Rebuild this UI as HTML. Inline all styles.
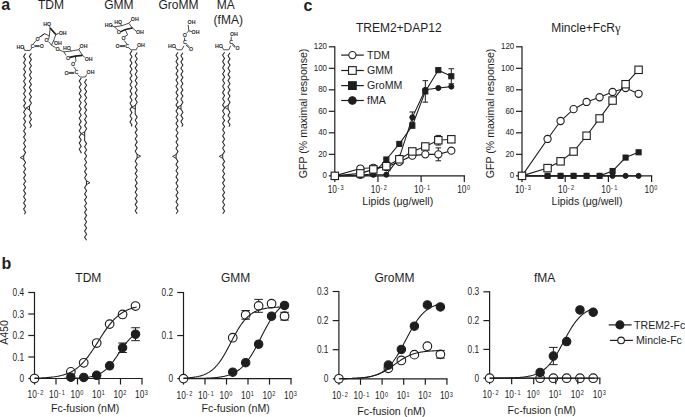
<!DOCTYPE html>
<html><head><meta charset="utf-8"><style>
html,body{margin:0;padding:0;background:#fff;overflow:hidden;}
svg{display:block;font-family:"Liberation Sans",sans-serif;}
text{fill:#1e1e1e;}
</style></head><body>
<svg width="685" height="417" viewBox="0 0 685 417">
<rect width="685" height="417" fill="#fff"/>
<text x="1.2" y="10.4" font-size="16" text-anchor="start" font-weight="bold" >a</text>
<text x="1.4" y="268.6" font-size="16" text-anchor="start" font-weight="bold" >b</text>
<text x="303.6" y="10.6" font-size="16" text-anchor="start" font-weight="bold" >c</text>
<line x1="334.8" y1="46.3" x2="334.8" y2="176.35" stroke="#1e1e1e" stroke-width="1.2"/>
<line x1="334.2" y1="175.85" x2="464.91" y2="175.85" stroke="#1e1e1e" stroke-width="1.2"/>
<line x1="328.8" y1="175.85" x2="334.8" y2="175.85" stroke="#1e1e1e" stroke-width="1.2"/>
<text transform="translate(327,178.45) scale(0.88,1)" font-size="9.0" text-anchor="end" font-weight="normal" >0</text>
<line x1="328.8" y1="154.34" x2="334.8" y2="154.34" stroke="#1e1e1e" stroke-width="1.2"/>
<text transform="translate(327,156.94) scale(0.88,1)" font-size="9.0" text-anchor="end" font-weight="normal" >20</text>
<line x1="328.8" y1="132.83" x2="334.8" y2="132.83" stroke="#1e1e1e" stroke-width="1.2"/>
<text transform="translate(327,135.43) scale(0.88,1)" font-size="9.0" text-anchor="end" font-weight="normal" >40</text>
<line x1="328.8" y1="111.32" x2="334.8" y2="111.32" stroke="#1e1e1e" stroke-width="1.2"/>
<text transform="translate(327,113.92) scale(0.88,1)" font-size="9.0" text-anchor="end" font-weight="normal" >60</text>
<line x1="328.8" y1="89.82" x2="334.8" y2="89.82" stroke="#1e1e1e" stroke-width="1.2"/>
<text transform="translate(327,92.42) scale(0.88,1)" font-size="9.0" text-anchor="end" font-weight="normal" >80</text>
<line x1="328.8" y1="68.31" x2="334.8" y2="68.31" stroke="#1e1e1e" stroke-width="1.2"/>
<text transform="translate(327,70.91) scale(0.88,1)" font-size="9.0" text-anchor="end" font-weight="normal" >100</text>
<line x1="328.8" y1="46.8" x2="334.8" y2="46.8" stroke="#1e1e1e" stroke-width="1.2"/>
<text transform="translate(327,49.4) scale(0.88,1)" font-size="9.0" text-anchor="end" font-weight="normal" >120</text>
<line x1="334.8" y1="175.85" x2="334.8" y2="181.95" stroke="#1e1e1e" stroke-width="1.2"/>
<text transform="translate(327.7,192.9) scale(0.81,1)" font-size="10.3">10<tspan font-size="6.9" dy="-2.9" dx="0.6">-</tspan><tspan font-size="6.9" dx="1.5">3</tspan></text>
<line x1="377.97" y1="175.85" x2="377.97" y2="181.95" stroke="#1e1e1e" stroke-width="1.2"/>
<text transform="translate(370.87,192.9) scale(0.81,1)" font-size="10.3">10<tspan font-size="6.9" dy="-2.9" dx="0.6">-</tspan><tspan font-size="6.9" dx="1.5">2</tspan></text>
<line x1="421.14" y1="175.85" x2="421.14" y2="181.95" stroke="#1e1e1e" stroke-width="1.2"/>
<text transform="translate(414.04,192.9) scale(0.81,1)" font-size="10.3">10<tspan font-size="6.9" dy="-2.9" dx="0.6">-</tspan><tspan font-size="6.9" dx="1.5">1</tspan></text>
<line x1="464.31" y1="175.85" x2="464.31" y2="181.95" stroke="#1e1e1e" stroke-width="1.2"/>
<text transform="translate(457.21,192.9) scale(0.81,1)" font-size="10.3">10<tspan font-size="6.9" dy="-2.9" dx="0.7">0</tspan></text>
<text x="355.9" y="32.2" font-size="12.0" text-anchor="start" font-weight="normal" >TREM2+DAP12</text>
<text x="397.8" y="204.6" font-size="10.6" text-anchor="middle" font-weight="normal" >Lipids (&#956;g/well)</text>
<text transform="translate(307,113.4) rotate(-90) scale(0.92,1)" font-size="11.5" text-anchor="middle">GFP (% maximal response)</text>
<path d="M334.8,175.85 L360.35,175.85 L373.34,174.77 L386.34,174.67 L399.33,157.57 L412.33,117.35 L425.32,89.82 L438.32,87.99 L451.31,86.59" stroke="#1e1e1e" stroke-width="1.1" fill="none" />
<line x1="412.33" y1="111.97" x2="412.33" y2="117.35" stroke="#1e1e1e" stroke-width="1.0"/>
<line x1="412.33" y1="117.35" x2="412.33" y2="122.72" stroke="#1e1e1e" stroke-width="1.0"/>
<line x1="409.53" y1="111.97" x2="415.13" y2="111.97" stroke="#1e1e1e" stroke-width="1.0"/>
<line x1="409.53" y1="122.72" x2="415.13" y2="122.72" stroke="#1e1e1e" stroke-width="1.0"/>
<circle cx="334.8" cy="175.85" r="2.55" fill="#1e1e1e" stroke="#1e1e1e" stroke-width="1.0"/>
<circle cx="360.35" cy="175.85" r="2.55" fill="#1e1e1e" stroke="#1e1e1e" stroke-width="1.0"/>
<circle cx="373.34" cy="174.77" r="2.55" fill="#1e1e1e" stroke="#1e1e1e" stroke-width="1.0"/>
<circle cx="386.34" cy="174.67" r="2.55" fill="#1e1e1e" stroke="#1e1e1e" stroke-width="1.0"/>
<circle cx="399.33" cy="157.57" r="2.55" fill="#1e1e1e" stroke="#1e1e1e" stroke-width="1.0"/>
<circle cx="412.33" cy="117.35" r="2.55" fill="#1e1e1e" stroke="#1e1e1e" stroke-width="1.0"/>
<circle cx="425.32" cy="89.82" r="2.55" fill="#1e1e1e" stroke="#1e1e1e" stroke-width="1.0"/>
<circle cx="438.32" cy="87.99" r="2.55" fill="#1e1e1e" stroke="#1e1e1e" stroke-width="1.0"/>
<circle cx="451.31" cy="86.59" r="2.55" fill="#1e1e1e" stroke="#1e1e1e" stroke-width="1.0"/>
<path d="M334.8,175.85 L360.35,175.31 L373.34,173.7 L386.34,159.5 L399.33,143.91 L412.33,125.74 L425.32,91.43 L438.32,70.14 L451.31,76.27" stroke="#1e1e1e" stroke-width="1.1" fill="none" />
<line x1="425.32" y1="80.68" x2="425.32" y2="91.43" stroke="#1e1e1e" stroke-width="1.0"/>
<line x1="425.32" y1="91.43" x2="425.32" y2="102.18" stroke="#1e1e1e" stroke-width="1.0"/>
<line x1="422.52" y1="80.68" x2="428.12" y2="80.68" stroke="#1e1e1e" stroke-width="1.0"/>
<line x1="422.52" y1="102.18" x2="428.12" y2="102.18" stroke="#1e1e1e" stroke-width="1.0"/>
<line x1="451.31" y1="68.74" x2="451.31" y2="76.27" stroke="#1e1e1e" stroke-width="1.0"/>
<line x1="451.31" y1="76.27" x2="451.31" y2="83.79" stroke="#1e1e1e" stroke-width="1.0"/>
<line x1="448.51" y1="68.74" x2="454.11" y2="68.74" stroke="#1e1e1e" stroke-width="1.0"/>
<line x1="448.51" y1="83.79" x2="454.11" y2="83.79" stroke="#1e1e1e" stroke-width="1.0"/>
<rect x="332.25" y="173.3" width="5.1" height="5.1" fill="#1e1e1e" stroke="#1e1e1e" stroke-width="1.0"/>
<rect x="357.8" y="172.76" width="5.1" height="5.1" fill="#1e1e1e" stroke="#1e1e1e" stroke-width="1.0"/>
<rect x="370.79" y="171.15" width="5.1" height="5.1" fill="#1e1e1e" stroke="#1e1e1e" stroke-width="1.0"/>
<rect x="383.79" y="156.95" width="5.1" height="5.1" fill="#1e1e1e" stroke="#1e1e1e" stroke-width="1.0"/>
<rect x="396.78" y="141.36" width="5.1" height="5.1" fill="#1e1e1e" stroke="#1e1e1e" stroke-width="1.0"/>
<rect x="409.78" y="123.19" width="5.1" height="5.1" fill="#1e1e1e" stroke="#1e1e1e" stroke-width="1.0"/>
<rect x="422.77" y="88.88" width="5.1" height="5.1" fill="#1e1e1e" stroke="#1e1e1e" stroke-width="1.0"/>
<rect x="435.77" y="67.59" width="5.1" height="5.1" fill="#1e1e1e" stroke="#1e1e1e" stroke-width="1.0"/>
<rect x="448.76" y="73.72" width="5.1" height="5.1" fill="#1e1e1e" stroke="#1e1e1e" stroke-width="1.0"/>
<path d="M334.8,175.85 L360.35,168.54 L373.34,167.78 L386.34,167.03 L399.33,161.87 L412.33,155.63 L425.32,154.34 L438.32,154.34 L451.31,150.69" stroke="#1e1e1e" stroke-width="1.1" fill="none" />
<line x1="438.32" y1="147.89" x2="438.32" y2="154.34" stroke="#1e1e1e" stroke-width="1.0"/>
<line x1="438.32" y1="154.34" x2="438.32" y2="160.79" stroke="#1e1e1e" stroke-width="1.0"/>
<line x1="435.52" y1="147.89" x2="441.12" y2="147.89" stroke="#1e1e1e" stroke-width="1.0"/>
<line x1="435.52" y1="160.79" x2="441.12" y2="160.79" stroke="#1e1e1e" stroke-width="1.0"/>
<circle cx="334.8" cy="175.85" r="3.6" fill="white" stroke="#1e1e1e" stroke-width="1.1"/>
<circle cx="360.35" cy="168.54" r="3.6" fill="white" stroke="#1e1e1e" stroke-width="1.1"/>
<circle cx="373.34" cy="167.78" r="3.6" fill="white" stroke="#1e1e1e" stroke-width="1.1"/>
<circle cx="386.34" cy="167.03" r="3.6" fill="white" stroke="#1e1e1e" stroke-width="1.1"/>
<circle cx="399.33" cy="161.87" r="3.6" fill="white" stroke="#1e1e1e" stroke-width="1.1"/>
<circle cx="412.33" cy="155.63" r="3.6" fill="white" stroke="#1e1e1e" stroke-width="1.1"/>
<circle cx="425.32" cy="154.34" r="3.6" fill="white" stroke="#1e1e1e" stroke-width="1.1"/>
<circle cx="438.32" cy="154.34" r="3.6" fill="white" stroke="#1e1e1e" stroke-width="1.1"/>
<circle cx="451.31" cy="150.69" r="3.6" fill="white" stroke="#1e1e1e" stroke-width="1.1"/>
<path d="M334.8,175.85 L360.35,173.38 L373.34,169.4 L386.34,166.17 L399.33,159.29 L412.33,151.44 L425.32,146.49 L438.32,140.25 L451.31,139.29" stroke="#1e1e1e" stroke-width="1.1" fill="none" />
<line x1="438.32" y1="135.41" x2="438.32" y2="140.25" stroke="#1e1e1e" stroke-width="1.0"/>
<line x1="438.32" y1="140.25" x2="438.32" y2="145.09" stroke="#1e1e1e" stroke-width="1.0"/>
<line x1="435.52" y1="135.41" x2="441.12" y2="135.41" stroke="#1e1e1e" stroke-width="1.0"/>
<line x1="435.52" y1="145.09" x2="441.12" y2="145.09" stroke="#1e1e1e" stroke-width="1.0"/>
<rect x="331.1" y="172.15" width="7.4" height="7.4" fill="white" stroke="#1e1e1e" stroke-width="1.1"/>
<rect x="356.65" y="169.68" width="7.4" height="7.4" fill="white" stroke="#1e1e1e" stroke-width="1.1"/>
<rect x="369.64" y="165.7" width="7.4" height="7.4" fill="white" stroke="#1e1e1e" stroke-width="1.1"/>
<rect x="382.64" y="162.47" width="7.4" height="7.4" fill="white" stroke="#1e1e1e" stroke-width="1.1"/>
<rect x="395.63" y="155.59" width="7.4" height="7.4" fill="white" stroke="#1e1e1e" stroke-width="1.1"/>
<rect x="408.63" y="147.74" width="7.4" height="7.4" fill="white" stroke="#1e1e1e" stroke-width="1.1"/>
<rect x="421.62" y="142.79" width="7.4" height="7.4" fill="white" stroke="#1e1e1e" stroke-width="1.1"/>
<rect x="434.62" y="136.55" width="7.4" height="7.4" fill="white" stroke="#1e1e1e" stroke-width="1.1"/>
<rect x="447.61" y="135.59" width="7.4" height="7.4" fill="white" stroke="#1e1e1e" stroke-width="1.1"/>
<line x1="341.2" y1="55.1" x2="363.8" y2="55.1" stroke="#1e1e1e" stroke-width="1.2"/>
<circle cx="352.4" cy="55.1" r="3.6" fill="white" stroke="#1e1e1e" stroke-width="1.1"/>
<text x="367" y="58.9" font-size="10.6" text-anchor="start" font-weight="normal" >TDM</text>
<line x1="341.2" y1="70.5" x2="363.8" y2="70.5" stroke="#1e1e1e" stroke-width="1.2"/>
<rect x="348.55" y="66.65" width="7.7" height="7.7" fill="white" stroke="#1e1e1e" stroke-width="1.1"/>
<text x="367" y="74.3" font-size="10.6" text-anchor="start" font-weight="normal" >GMM</text>
<line x1="341.2" y1="85.6" x2="363.8" y2="85.6" stroke="#1e1e1e" stroke-width="1.2"/>
<rect x="348.55" y="81.75" width="7.7" height="7.7" fill="#1e1e1e" stroke="#1e1e1e" stroke-width="1.1"/>
<text x="367" y="89.4" font-size="10.6" text-anchor="start" font-weight="normal" >GroMM</text>
<line x1="341.2" y1="100.5" x2="363.8" y2="100.5" stroke="#1e1e1e" stroke-width="1.2"/>
<circle cx="352.4" cy="100.5" r="3.8" fill="#1e1e1e" stroke="#1e1e1e" stroke-width="1.1"/>
<text x="367" y="104.3" font-size="10.6" text-anchor="start" font-weight="normal" >fMA</text>
<line x1="522" y1="46.3" x2="522" y2="176.35" stroke="#1e1e1e" stroke-width="1.2"/>
<line x1="521.4" y1="175.85" x2="652.2" y2="175.85" stroke="#1e1e1e" stroke-width="1.2"/>
<line x1="516" y1="175.85" x2="522" y2="175.85" stroke="#1e1e1e" stroke-width="1.2"/>
<text transform="translate(514.2,178.45) scale(0.88,1)" font-size="9.0" text-anchor="end" font-weight="normal" >0</text>
<line x1="516" y1="154.34" x2="522" y2="154.34" stroke="#1e1e1e" stroke-width="1.2"/>
<text transform="translate(514.2,156.94) scale(0.88,1)" font-size="9.0" text-anchor="end" font-weight="normal" >20</text>
<line x1="516" y1="132.83" x2="522" y2="132.83" stroke="#1e1e1e" stroke-width="1.2"/>
<text transform="translate(514.2,135.43) scale(0.88,1)" font-size="9.0" text-anchor="end" font-weight="normal" >40</text>
<line x1="516" y1="111.32" x2="522" y2="111.32" stroke="#1e1e1e" stroke-width="1.2"/>
<text transform="translate(514.2,113.92) scale(0.88,1)" font-size="9.0" text-anchor="end" font-weight="normal" >60</text>
<line x1="516" y1="89.82" x2="522" y2="89.82" stroke="#1e1e1e" stroke-width="1.2"/>
<text transform="translate(514.2,92.42) scale(0.88,1)" font-size="9.0" text-anchor="end" font-weight="normal" >80</text>
<line x1="516" y1="68.31" x2="522" y2="68.31" stroke="#1e1e1e" stroke-width="1.2"/>
<text transform="translate(514.2,70.91) scale(0.88,1)" font-size="9.0" text-anchor="end" font-weight="normal" >100</text>
<line x1="516" y1="46.8" x2="522" y2="46.8" stroke="#1e1e1e" stroke-width="1.2"/>
<text transform="translate(514.2,49.4) scale(0.88,1)" font-size="9.0" text-anchor="end" font-weight="normal" >120</text>
<line x1="522" y1="175.85" x2="522" y2="181.95" stroke="#1e1e1e" stroke-width="1.2"/>
<text transform="translate(514.9,192.9) scale(0.81,1)" font-size="10.3">10<tspan font-size="6.9" dy="-2.9" dx="0.6">-</tspan><tspan font-size="6.9" dx="1.5">3</tspan></text>
<line x1="565.2" y1="175.85" x2="565.2" y2="181.95" stroke="#1e1e1e" stroke-width="1.2"/>
<text transform="translate(558.1,192.9) scale(0.81,1)" font-size="10.3">10<tspan font-size="6.9" dy="-2.9" dx="0.6">-</tspan><tspan font-size="6.9" dx="1.5">2</tspan></text>
<line x1="608.4" y1="175.85" x2="608.4" y2="181.95" stroke="#1e1e1e" stroke-width="1.2"/>
<text transform="translate(601.3,192.9) scale(0.81,1)" font-size="10.3">10<tspan font-size="6.9" dy="-2.9" dx="0.6">-</tspan><tspan font-size="6.9" dx="1.5">1</tspan></text>
<line x1="651.6" y1="175.85" x2="651.6" y2="181.95" stroke="#1e1e1e" stroke-width="1.2"/>
<text transform="translate(644.5,192.9) scale(0.81,1)" font-size="10.3">10<tspan font-size="6.9" dy="-2.9" dx="0.7">0</tspan></text>
<text x="551.2" y="32.2" font-size="12.0" text-anchor="start" font-weight="normal" >Mincle+FcR<tspan font-family="Liberation Serif" font-size="12.5">&#947;</tspan></text>
<text x="587" y="204.6" font-size="10.6" text-anchor="middle" font-weight="normal" >Lipids (&#956;g/well)</text>
<text transform="translate(494.3,113.4) rotate(-90) scale(0.92,1)" font-size="11.5" text-anchor="middle">GFP (% maximal response)</text>
<path d="M522,175.85 L547.56,175.85 L560.57,175.85 L573.57,175.85 L586.58,175.85 L599.58,175.85 L612.59,175.85 L625.59,175.85 L638.6,175.85" stroke="#1e1e1e" stroke-width="1.1" fill="none" />
<circle cx="522" cy="175.85" r="2.55" fill="#1e1e1e" stroke="#1e1e1e" stroke-width="1.0"/>
<circle cx="547.56" cy="175.85" r="2.55" fill="#1e1e1e" stroke="#1e1e1e" stroke-width="1.0"/>
<circle cx="560.57" cy="175.85" r="2.55" fill="#1e1e1e" stroke="#1e1e1e" stroke-width="1.0"/>
<circle cx="573.57" cy="175.85" r="2.55" fill="#1e1e1e" stroke="#1e1e1e" stroke-width="1.0"/>
<circle cx="586.58" cy="175.85" r="2.55" fill="#1e1e1e" stroke="#1e1e1e" stroke-width="1.0"/>
<circle cx="599.58" cy="175.85" r="2.55" fill="#1e1e1e" stroke="#1e1e1e" stroke-width="1.0"/>
<circle cx="612.59" cy="175.85" r="2.55" fill="#1e1e1e" stroke="#1e1e1e" stroke-width="1.0"/>
<circle cx="625.59" cy="175.85" r="2.55" fill="#1e1e1e" stroke="#1e1e1e" stroke-width="1.0"/>
<circle cx="638.6" cy="175.85" r="2.55" fill="#1e1e1e" stroke="#1e1e1e" stroke-width="1.0"/>
<path d="M522,175.85 L547.56,175.85 L560.57,175.85 L573.57,175.85 L586.58,175.85 L599.58,175.85 L612.59,171.01 L625.59,157.57 L638.6,152.3" stroke="#1e1e1e" stroke-width="1.1" fill="none" />
<rect x="519.45" y="173.3" width="5.1" height="5.1" fill="#1e1e1e" stroke="#1e1e1e" stroke-width="1.0"/>
<rect x="545.01" y="173.3" width="5.1" height="5.1" fill="#1e1e1e" stroke="#1e1e1e" stroke-width="1.0"/>
<rect x="558.02" y="173.3" width="5.1" height="5.1" fill="#1e1e1e" stroke="#1e1e1e" stroke-width="1.0"/>
<rect x="571.02" y="173.3" width="5.1" height="5.1" fill="#1e1e1e" stroke="#1e1e1e" stroke-width="1.0"/>
<rect x="584.03" y="173.3" width="5.1" height="5.1" fill="#1e1e1e" stroke="#1e1e1e" stroke-width="1.0"/>
<rect x="597.03" y="173.3" width="5.1" height="5.1" fill="#1e1e1e" stroke="#1e1e1e" stroke-width="1.0"/>
<rect x="610.04" y="168.46" width="5.1" height="5.1" fill="#1e1e1e" stroke="#1e1e1e" stroke-width="1.0"/>
<rect x="623.04" y="155.02" width="5.1" height="5.1" fill="#1e1e1e" stroke="#1e1e1e" stroke-width="1.0"/>
<rect x="636.05" y="149.75" width="5.1" height="5.1" fill="#1e1e1e" stroke="#1e1e1e" stroke-width="1.0"/>
<path d="M522,175.85 L547.56,138.96 L560.57,121 L573.57,109.17 L586.58,101.97 L599.58,97.24 L612.59,91.97 L625.59,87.99 L638.6,93.8" stroke="#1e1e1e" stroke-width="1.1" fill="none" />
<circle cx="522" cy="175.85" r="3.6" fill="white" stroke="#1e1e1e" stroke-width="1.1"/>
<circle cx="547.56" cy="138.96" r="3.6" fill="white" stroke="#1e1e1e" stroke-width="1.1"/>
<circle cx="560.57" cy="121" r="3.6" fill="white" stroke="#1e1e1e" stroke-width="1.1"/>
<circle cx="573.57" cy="109.17" r="3.6" fill="white" stroke="#1e1e1e" stroke-width="1.1"/>
<circle cx="586.58" cy="101.97" r="3.6" fill="white" stroke="#1e1e1e" stroke-width="1.1"/>
<circle cx="599.58" cy="97.24" r="3.6" fill="white" stroke="#1e1e1e" stroke-width="1.1"/>
<circle cx="612.59" cy="91.97" r="3.6" fill="white" stroke="#1e1e1e" stroke-width="1.1"/>
<circle cx="625.59" cy="87.99" r="3.6" fill="white" stroke="#1e1e1e" stroke-width="1.1"/>
<circle cx="638.6" cy="93.8" r="3.6" fill="white" stroke="#1e1e1e" stroke-width="1.1"/>
<path d="M522,175.85 L547.56,168.11 L560.57,161.33 L573.57,151.55 L586.58,135.74 L599.58,118.42 L612.59,100.57 L625.59,84.22 L638.6,69.81" stroke="#1e1e1e" stroke-width="1.1" fill="none" />
<rect x="518.3" y="172.15" width="7.4" height="7.4" fill="white" stroke="#1e1e1e" stroke-width="1.1"/>
<rect x="543.86" y="164.41" width="7.4" height="7.4" fill="white" stroke="#1e1e1e" stroke-width="1.1"/>
<rect x="556.87" y="157.63" width="7.4" height="7.4" fill="white" stroke="#1e1e1e" stroke-width="1.1"/>
<rect x="569.87" y="147.85" width="7.4" height="7.4" fill="white" stroke="#1e1e1e" stroke-width="1.1"/>
<rect x="582.88" y="132.04" width="7.4" height="7.4" fill="white" stroke="#1e1e1e" stroke-width="1.1"/>
<rect x="595.88" y="114.72" width="7.4" height="7.4" fill="white" stroke="#1e1e1e" stroke-width="1.1"/>
<rect x="608.89" y="96.87" width="7.4" height="7.4" fill="white" stroke="#1e1e1e" stroke-width="1.1"/>
<rect x="621.89" y="80.52" width="7.4" height="7.4" fill="white" stroke="#1e1e1e" stroke-width="1.1"/>
<rect x="634.9" y="66.11" width="7.4" height="7.4" fill="white" stroke="#1e1e1e" stroke-width="1.1"/>
<line x1="34.5" y1="292" x2="34.5" y2="379" stroke="#1e1e1e" stroke-width="1.2"/>
<line x1="33.9" y1="378.5" x2="142.6" y2="378.5" stroke="#1e1e1e" stroke-width="1.2"/>
<line x1="28.3" y1="378.5" x2="34.5" y2="378.5" stroke="#1e1e1e" stroke-width="1.2"/>
<text transform="translate(24.1,382) scale(0.81,1)" font-size="10.3" text-anchor="end" font-weight="normal" >0</text>
<line x1="28.3" y1="357" x2="34.5" y2="357" stroke="#1e1e1e" stroke-width="1.2"/>
<text transform="translate(24.1,360.5) scale(0.81,1)" font-size="10.3" text-anchor="end" font-weight="normal" >0.1</text>
<line x1="28.3" y1="335.5" x2="34.5" y2="335.5" stroke="#1e1e1e" stroke-width="1.2"/>
<text transform="translate(24.1,339) scale(0.81,1)" font-size="10.3" text-anchor="end" font-weight="normal" >0.2</text>
<line x1="28.3" y1="314" x2="34.5" y2="314" stroke="#1e1e1e" stroke-width="1.2"/>
<text transform="translate(24.1,317.5) scale(0.81,1)" font-size="10.3" text-anchor="end" font-weight="normal" >0.3</text>
<line x1="28.3" y1="292.5" x2="34.5" y2="292.5" stroke="#1e1e1e" stroke-width="1.2"/>
<text transform="translate(24.1,296) scale(0.81,1)" font-size="10.3" text-anchor="end" font-weight="normal" >0.4</text>
<line x1="34.5" y1="378.5" x2="34.5" y2="384.5" stroke="#1e1e1e" stroke-width="1.2"/>
<text transform="translate(27.5,398.2) scale(0.81,1)" font-size="10.3">10<tspan font-size="6.9" dy="-2.9" dx="0.6">-</tspan><tspan font-size="6.9" dx="1.5">2</tspan></text>
<line x1="56" y1="378.5" x2="56" y2="384.5" stroke="#1e1e1e" stroke-width="1.2"/>
<text transform="translate(49,398.2) scale(0.81,1)" font-size="10.3">10<tspan font-size="6.9" dy="-2.9" dx="0.6">-</tspan><tspan font-size="6.9" dx="1.5">1</tspan></text>
<line x1="77.5" y1="378.5" x2="77.5" y2="384.5" stroke="#1e1e1e" stroke-width="1.2"/>
<text transform="translate(70.5,398.2) scale(0.81,1)" font-size="10.3">10<tspan font-size="6.9" dy="-2.9" dx="0.7">0</tspan></text>
<line x1="99" y1="378.5" x2="99" y2="384.5" stroke="#1e1e1e" stroke-width="1.2"/>
<text transform="translate(92,398.2) scale(0.81,1)" font-size="10.3">10<tspan font-size="6.9" dy="-2.9" dx="0.7">1</tspan></text>
<line x1="120.5" y1="378.5" x2="120.5" y2="384.5" stroke="#1e1e1e" stroke-width="1.2"/>
<text transform="translate(113.5,398.2) scale(0.81,1)" font-size="10.3">10<tspan font-size="6.9" dy="-2.9" dx="0.7">2</tspan></text>
<line x1="142" y1="378.5" x2="142" y2="384.5" stroke="#1e1e1e" stroke-width="1.2"/>
<text transform="translate(135,398.2) scale(0.81,1)" font-size="10.3">10<tspan font-size="6.9" dy="-2.9" dx="0.7">3</tspan></text>
<text x="75.3" y="281.8" font-size="12.0" text-anchor="start" font-weight="normal" >TDM</text>
<text x="85.2" y="411.9" font-size="10.6" text-anchor="middle" font-weight="normal" >Fc-fusion (nM)</text>
<circle cx="34.5" cy="378.5" r="4.3" fill="white" stroke="#1e1e1e" stroke-width="1.15"/>
<path d="M34.5,378.5 L35.36,378.5 L36.22,378.5 L37.07,378.5 L37.93,378.5 L38.79,378.5 L39.65,378.5 L40.51,378.5 L41.37,378.49 L42.22,378.49 L43.08,378.49 L43.94,378.49 L44.8,378.49 L45.66,378.49 L46.51,378.49 L47.37,378.49 L48.23,378.49 L49.09,378.49 L49.95,378.49 L50.81,378.48 L51.66,378.48 L52.52,378.48 L53.38,378.48 L54.24,378.48 L55.1,378.47 L55.95,378.47 L56.81,378.47 L57.67,378.46 L58.53,378.46 L59.39,378.45 L60.25,378.45 L61.1,378.44 L61.96,378.44 L62.82,378.43 L63.68,378.43 L64.54,378.42 L65.39,378.41 L66.25,378.4 L67.11,378.39 L67.97,378.38 L68.83,378.36 L69.69,378.35 L70.54,378.33 L71.4,378.31 L72.26,378.29 L73.12,378.27 L73.98,378.25 L74.84,378.22 L75.69,378.19 L76.55,378.16 L77.41,378.12 L78.27,378.08 L79.13,378.04 L79.98,377.99 L80.84,377.94 L81.7,377.88 L82.56,377.81 L83.42,377.74 L84.28,377.66 L85.13,377.57 L85.99,377.48 L86.85,377.37 L87.71,377.25 L88.57,377.13 L89.42,376.98 L90.28,376.83 L91.14,376.66 L92,376.47 L92.86,376.26 L93.72,376.03 L94.57,375.78 L95.43,375.51 L96.29,375.21 L97.15,374.89 L98.01,374.53 L98.86,374.15 L99.72,373.73 L100.58,373.27 L101.44,372.78 L102.3,372.24 L103.16,371.67 L104.01,371.05 L104.87,370.38 L105.73,369.67 L106.59,368.9 L107.45,368.09 L108.3,367.23 L109.16,366.32 L110.02,365.36 L110.88,364.35 L111.74,363.29 L112.6,362.2 L113.45,361.06 L114.31,359.89 L115.17,358.68 L116.03,357.45 L116.89,356.19 L117.74,354.93 L118.6,353.65 L119.46,352.37 L120.32,351.1 L121.18,349.83 L122.04,348.59 L122.89,347.36 L123.75,346.17 L124.61,345.01 L125.47,343.88 L126.33,342.8 L127.18,341.76 L128.04,340.77 L128.9,339.83 L129.76,338.94 L130.62,338.09 L131.48,337.3 L132.33,336.55 L133.19,335.85 L134.05,335.2 L134.91,334.6 L135.77,334.04 L136.62,333.52" stroke="#1e1e1e" stroke-width="1.1" fill="none" />
<path d="M34.5,378.19 L35.36,378.16 L36.22,378.14 L37.07,378.11 L37.93,378.08 L38.79,378.05 L39.65,378.01 L40.51,377.98 L41.37,377.94 L42.22,377.89 L43.08,377.85 L43.94,377.8 L44.8,377.75 L45.66,377.69 L46.51,377.63 L47.37,377.56 L48.23,377.49 L49.09,377.42 L49.95,377.34 L50.81,377.25 L51.66,377.15 L52.52,377.05 L53.38,376.94 L54.24,376.83 L55.1,376.7 L55.95,376.57 L56.81,376.43 L57.67,376.27 L58.53,376.11 L59.39,375.93 L60.25,375.74 L61.1,375.54 L61.96,375.33 L62.82,375.09 L63.68,374.85 L64.54,374.58 L65.39,374.3 L66.25,374 L67.11,373.68 L67.97,373.33 L68.83,372.97 L69.69,372.58 L70.54,372.17 L71.4,371.73 L72.26,371.26 L73.12,370.77 L73.98,370.24 L74.84,369.69 L75.69,369.1 L76.55,368.48 L77.41,367.82 L78.27,367.13 L79.13,366.4 L79.98,365.64 L80.84,364.84 L81.7,364 L82.56,363.12 L83.42,362.21 L84.28,361.25 L85.13,360.26 L85.99,359.23 L86.85,358.16 L87.71,357.05 L88.57,355.91 L89.42,354.74 L90.28,353.54 L91.14,352.31 L92,351.05 L92.86,349.76 L93.72,348.46 L94.57,347.13 L95.43,345.8 L96.29,344.44 L97.15,343.09 L98.01,341.72 L98.86,340.36 L99.72,339 L100.58,337.65 L101.44,336.3 L102.3,334.97 L103.16,333.66 L104.01,332.36 L104.87,331.09 L105.73,329.85 L106.59,328.63 L107.45,327.45 L108.3,326.3 L109.16,325.18 L110.02,324.09 L110.88,323.05 L111.74,322.04 L112.6,321.07 L113.45,320.14 L114.31,319.24 L115.17,318.39 L116.03,317.57 L116.89,316.79 L117.74,316.05 L118.6,315.34 L119.46,314.67 L120.32,314.04 L121.18,313.44 L122.04,312.87 L122.89,312.33 L123.75,311.82 L124.61,311.34 L125.47,310.89 L126.33,310.47 L127.18,310.07 L128.04,309.7 L128.9,309.34 L129.76,309.01 L130.62,308.7 L131.48,308.41 L132.33,308.14 L133.19,307.89 L134.05,307.65 L134.91,307.43 L135.77,307.22 L136.62,307.03" stroke="#1e1e1e" stroke-width="1.1" fill="none" />
<line x1="122.58" y1="343.02" x2="122.58" y2="347.75" stroke="#1e1e1e" stroke-width="1.0"/>
<line x1="122.58" y1="347.75" x2="122.58" y2="352.49" stroke="#1e1e1e" stroke-width="1.0"/>
<line x1="118.28" y1="343.02" x2="126.88" y2="343.02" stroke="#1e1e1e" stroke-width="1.0"/>
<line x1="118.28" y1="352.49" x2="126.88" y2="352.49" stroke="#1e1e1e" stroke-width="1.0"/>
<line x1="135.53" y1="327.76" x2="135.53" y2="334.21" stroke="#1e1e1e" stroke-width="1.0"/>
<line x1="135.53" y1="334.21" x2="135.53" y2="340.66" stroke="#1e1e1e" stroke-width="1.0"/>
<line x1="131.23" y1="327.76" x2="139.83" y2="327.76" stroke="#1e1e1e" stroke-width="1.0"/>
<line x1="131.23" y1="340.66" x2="139.83" y2="340.66" stroke="#1e1e1e" stroke-width="1.0"/>
<circle cx="70.84" cy="377.21" r="4.2" fill="#1e1e1e" stroke="#1e1e1e" stroke-width="1.1"/>
<circle cx="83.74" cy="377.43" r="4.2" fill="#1e1e1e" stroke="#1e1e1e" stroke-width="1.1"/>
<circle cx="96.68" cy="375.27" r="4.2" fill="#1e1e1e" stroke="#1e1e1e" stroke-width="1.1"/>
<circle cx="109.64" cy="365.81" r="4.2" fill="#1e1e1e" stroke="#1e1e1e" stroke-width="1.1"/>
<circle cx="122.58" cy="347.75" r="4.2" fill="#1e1e1e" stroke="#1e1e1e" stroke-width="1.1"/>
<circle cx="135.53" cy="334.21" r="4.2" fill="#1e1e1e" stroke="#1e1e1e" stroke-width="1.1"/>
<circle cx="70.84" cy="371.83" r="4.3" fill="none" stroke="#1e1e1e" stroke-width="1.15"/>
<circle cx="83.74" cy="362.81" r="4.3" fill="none" stroke="#1e1e1e" stroke-width="1.15"/>
<circle cx="96.68" cy="343.02" r="4.3" fill="none" stroke="#1e1e1e" stroke-width="1.15"/>
<circle cx="109.64" cy="324.11" r="4.3" fill="none" stroke="#1e1e1e" stroke-width="1.15"/>
<circle cx="122.58" cy="314.43" r="4.3" fill="none" stroke="#1e1e1e" stroke-width="1.15"/>
<circle cx="135.53" cy="306.05" r="4.3" fill="none" stroke="#1e1e1e" stroke-width="1.15"/>
<text transform="translate(8.4,332.5) rotate(-90) scale(0.92,1)" font-size="11.5" text-anchor="middle">A450</text>
<line x1="183.5" y1="292" x2="183.5" y2="379.1" stroke="#1e1e1e" stroke-width="1.2"/>
<line x1="182.9" y1="378.6" x2="291.6" y2="378.6" stroke="#1e1e1e" stroke-width="1.2"/>
<line x1="177.3" y1="378.6" x2="183.5" y2="378.6" stroke="#1e1e1e" stroke-width="1.2"/>
<text transform="translate(173.1,382.1) scale(0.81,1)" font-size="10.3" text-anchor="end" font-weight="normal" >0</text>
<line x1="177.3" y1="335.55" x2="183.5" y2="335.55" stroke="#1e1e1e" stroke-width="1.2"/>
<text transform="translate(173.1,339.05) scale(0.81,1)" font-size="10.3" text-anchor="end" font-weight="normal" >0.1</text>
<line x1="177.3" y1="292.5" x2="183.5" y2="292.5" stroke="#1e1e1e" stroke-width="1.2"/>
<text transform="translate(173.1,296) scale(0.81,1)" font-size="10.3" text-anchor="end" font-weight="normal" >0.2</text>
<line x1="183.5" y1="378.6" x2="183.5" y2="384.6" stroke="#1e1e1e" stroke-width="1.2"/>
<text transform="translate(176.5,399.2) scale(0.81,1)" font-size="10.3">10<tspan font-size="6.9" dy="-2.9" dx="0.6">-</tspan><tspan font-size="6.9" dx="1.5">2</tspan></text>
<line x1="205" y1="378.6" x2="205" y2="384.6" stroke="#1e1e1e" stroke-width="1.2"/>
<text transform="translate(198,399.2) scale(0.81,1)" font-size="10.3">10<tspan font-size="6.9" dy="-2.9" dx="0.6">-</tspan><tspan font-size="6.9" dx="1.5">1</tspan></text>
<line x1="226.5" y1="378.6" x2="226.5" y2="384.6" stroke="#1e1e1e" stroke-width="1.2"/>
<text transform="translate(219.5,399.2) scale(0.81,1)" font-size="10.3">10<tspan font-size="6.9" dy="-2.9" dx="0.7">0</tspan></text>
<line x1="248" y1="378.6" x2="248" y2="384.6" stroke="#1e1e1e" stroke-width="1.2"/>
<text transform="translate(241,399.2) scale(0.81,1)" font-size="10.3">10<tspan font-size="6.9" dy="-2.9" dx="0.7">1</tspan></text>
<line x1="269.5" y1="378.6" x2="269.5" y2="384.6" stroke="#1e1e1e" stroke-width="1.2"/>
<text transform="translate(262.5,399.2) scale(0.81,1)" font-size="10.3">10<tspan font-size="6.9" dy="-2.9" dx="0.7">2</tspan></text>
<line x1="291" y1="378.6" x2="291" y2="384.6" stroke="#1e1e1e" stroke-width="1.2"/>
<text transform="translate(284,399.2) scale(0.81,1)" font-size="10.3">10<tspan font-size="6.9" dy="-2.9" dx="0.7">3</tspan></text>
<text x="220.9" y="281.8" font-size="12.0" text-anchor="start" font-weight="normal" >GMM</text>
<text x="235.7" y="411.9" font-size="10.6" text-anchor="middle" font-weight="normal" >Fc-fusion (nM)</text>
<circle cx="183.5" cy="378.6" r="4.3" fill="white" stroke="#1e1e1e" stroke-width="1.15"/>
<path d="M183.5,378.55 L184.36,378.55 L185.22,378.55 L186.07,378.54 L186.93,378.54 L187.79,378.53 L188.65,378.52 L189.51,378.52 L190.37,378.51 L191.22,378.5 L192.08,378.49 L192.94,378.48 L193.8,378.47 L194.66,378.46 L195.51,378.45 L196.37,378.44 L197.23,378.43 L198.09,378.41 L198.95,378.39 L199.81,378.38 L200.66,378.36 L201.52,378.34 L202.38,378.31 L203.24,378.29 L204.1,378.26 L204.95,378.23 L205.81,378.2 L206.67,378.17 L207.53,378.13 L208.39,378.09 L209.25,378.05 L210.1,378 L210.96,377.95 L211.82,377.89 L212.68,377.83 L213.54,377.76 L214.39,377.69 L215.25,377.61 L216.11,377.53 L216.97,377.44 L217.83,377.34 L218.69,377.23 L219.54,377.12 L220.4,376.99 L221.26,376.85 L222.12,376.71 L222.98,376.55 L223.84,376.38 L224.69,376.19 L225.55,375.99 L226.41,375.77 L227.27,375.53 L228.13,375.28 L228.98,375.01 L229.84,374.71 L230.7,374.39 L231.56,374.05 L232.42,373.68 L233.28,373.28 L234.13,372.85 L234.99,372.39 L235.85,371.9 L236.71,371.37 L237.57,370.81 L238.42,370.2 L239.28,369.56 L240.14,368.87 L241,368.14 L241.86,367.36 L242.72,366.53 L243.57,365.65 L244.43,364.72 L245.29,363.74 L246.15,362.7 L247.01,361.62 L247.86,360.47 L248.72,359.28 L249.58,358.03 L250.44,356.73 L251.3,355.37 L252.16,353.97 L253.01,352.52 L253.87,351.03 L254.73,349.5 L255.59,347.93 L256.45,346.32 L257.3,344.69 L258.16,343.04 L259.02,341.37 L259.88,339.68 L260.74,337.99 L261.6,336.3 L262.45,334.61 L263.31,332.94 L264.17,331.28 L265.03,329.64 L265.89,328.03 L266.74,326.45 L267.6,324.9 L268.46,323.4 L269.32,321.94 L270.18,320.52 L271.04,319.16 L271.89,317.84 L272.75,316.58 L273.61,315.37 L274.47,314.21 L275.33,313.11 L276.18,312.06 L277.04,311.07 L277.9,310.13 L278.76,309.24 L279.62,308.39 L280.48,307.6 L281.33,306.86 L282.19,306.16 L283.05,305.5 L283.91,304.89 L284.77,304.31 L285.62,303.77" stroke="#1e1e1e" stroke-width="1.1" fill="none" />
<path d="M183.5,378.15 L184.36,378.11 L185.22,378.06 L186.07,378.01 L186.93,377.95 L187.79,377.89 L188.65,377.82 L189.51,377.75 L190.37,377.67 L191.22,377.58 L192.08,377.48 L192.94,377.37 L193.8,377.26 L194.66,377.13 L195.51,376.99 L196.37,376.84 L197.23,376.68 L198.09,376.5 L198.95,376.3 L199.81,376.09 L200.66,375.86 L201.52,375.6 L202.38,375.33 L203.24,375.03 L204.1,374.71 L204.95,374.35 L205.81,373.97 L206.67,373.56 L207.53,373.11 L208.39,372.62 L209.25,372.1 L210.1,371.53 L210.96,370.93 L211.82,370.27 L212.68,369.57 L213.54,368.82 L214.39,368.02 L215.25,367.16 L216.11,366.25 L216.97,365.28 L217.83,364.26 L218.69,363.17 L219.54,362.03 L220.4,360.83 L221.26,359.57 L222.12,358.26 L222.98,356.89 L223.84,355.47 L224.69,354.01 L225.55,352.5 L226.41,350.95 L227.27,349.37 L228.13,347.77 L228.98,346.14 L229.84,344.49 L230.7,342.84 L231.56,341.19 L232.42,339.55 L233.28,337.92 L234.13,336.3 L234.99,334.72 L235.85,333.16 L236.71,331.65 L237.57,330.17 L238.42,328.74 L239.28,327.36 L240.14,326.04 L241,324.77 L241.86,323.55 L242.72,322.39 L243.57,321.3 L244.43,320.26 L245.29,319.28 L246.15,318.35 L247.01,317.48 L247.86,316.67 L248.72,315.9 L249.58,315.19 L250.44,314.53 L251.3,313.91 L252.16,313.33 L253.01,312.8 L253.87,312.31 L254.73,311.85 L255.59,311.43 L256.45,311.04 L257.3,310.68 L258.16,310.35 L259.02,310.04 L259.88,309.76 L260.74,309.51 L261.6,309.27 L262.45,309.05 L263.31,308.85 L264.17,308.67 L265.03,308.5 L265.89,308.35 L266.74,308.21 L267.6,308.08 L268.46,307.96 L269.32,307.85 L270.18,307.75 L271.04,307.66 L271.89,307.58 L272.75,307.5 L273.61,307.43 L274.47,307.37 L275.33,307.31 L276.18,307.26 L277.04,307.21 L277.9,307.17 L278.76,307.13 L279.62,307.09 L280.48,307.06 L281.33,307.03 L282.19,307 L283.05,306.97 L283.91,306.95 L284.77,306.93 L285.62,306.91" stroke="#1e1e1e" stroke-width="1.1" fill="none" />
<line x1="245.68" y1="310.58" x2="245.68" y2="310.59" stroke="#1e1e1e" stroke-width="1.0"/>
<line x1="245.68" y1="319.19" x2="245.68" y2="319.19" stroke="#1e1e1e" stroke-width="1.0"/>
<line x1="241.38" y1="310.58" x2="249.98" y2="310.58" stroke="#1e1e1e" stroke-width="1.0"/>
<line x1="241.38" y1="319.19" x2="249.98" y2="319.19" stroke="#1e1e1e" stroke-width="1.0"/>
<line x1="258.64" y1="299.39" x2="258.64" y2="301.55" stroke="#1e1e1e" stroke-width="1.0"/>
<line x1="258.64" y1="310.15" x2="258.64" y2="312.3" stroke="#1e1e1e" stroke-width="1.0"/>
<line x1="254.34" y1="299.39" x2="262.94" y2="299.39" stroke="#1e1e1e" stroke-width="1.0"/>
<line x1="254.34" y1="312.3" x2="262.94" y2="312.3" stroke="#1e1e1e" stroke-width="1.0"/>
<line x1="280.23" y1="312.3" x2="288.83" y2="312.3" stroke="#1e1e1e" stroke-width="1.0"/>
<line x1="280.23" y1="320.05" x2="288.83" y2="320.05" stroke="#1e1e1e" stroke-width="1.0"/>
<circle cx="232.74" cy="372.14" r="4.2" fill="#1e1e1e" stroke="#1e1e1e" stroke-width="1.1"/>
<circle cx="245.68" cy="362.67" r="4.2" fill="#1e1e1e" stroke="#1e1e1e" stroke-width="1.1"/>
<circle cx="258.64" cy="344.16" r="4.2" fill="#1e1e1e" stroke="#1e1e1e" stroke-width="1.1"/>
<circle cx="271.58" cy="316.18" r="4.2" fill="#1e1e1e" stroke="#1e1e1e" stroke-width="1.1"/>
<circle cx="284.53" cy="305.42" r="4.2" fill="#1e1e1e" stroke="#1e1e1e" stroke-width="1.1"/>
<circle cx="232.74" cy="337.7" r="4.3" fill="none" stroke="#1e1e1e" stroke-width="1.15"/>
<circle cx="245.68" cy="314.89" r="4.3" fill="none" stroke="#1e1e1e" stroke-width="1.15"/>
<circle cx="258.64" cy="305.85" r="4.3" fill="none" stroke="#1e1e1e" stroke-width="1.15"/>
<circle cx="271.58" cy="303.69" r="4.3" fill="none" stroke="#1e1e1e" stroke-width="1.15"/>
<circle cx="284.53" cy="316.18" r="4.3" fill="none" stroke="#1e1e1e" stroke-width="1.15"/>
<line x1="338.9" y1="291" x2="338.9" y2="379.3" stroke="#1e1e1e" stroke-width="1.2"/>
<line x1="338.3" y1="378.8" x2="447.5" y2="378.8" stroke="#1e1e1e" stroke-width="1.2"/>
<line x1="332.7" y1="378.8" x2="338.9" y2="378.8" stroke="#1e1e1e" stroke-width="1.2"/>
<text transform="translate(328.5,382.3) scale(0.81,1)" font-size="10.3" text-anchor="end" font-weight="normal" >0</text>
<line x1="332.7" y1="349.7" x2="338.9" y2="349.7" stroke="#1e1e1e" stroke-width="1.2"/>
<text transform="translate(328.5,353.2) scale(0.81,1)" font-size="10.3" text-anchor="end" font-weight="normal" >0.1</text>
<line x1="332.7" y1="320.6" x2="338.9" y2="320.6" stroke="#1e1e1e" stroke-width="1.2"/>
<text transform="translate(328.5,324.1) scale(0.81,1)" font-size="10.3" text-anchor="end" font-weight="normal" >0.2</text>
<line x1="332.7" y1="291.5" x2="338.9" y2="291.5" stroke="#1e1e1e" stroke-width="1.2"/>
<text transform="translate(328.5,295) scale(0.81,1)" font-size="10.3" text-anchor="end" font-weight="normal" >0.3</text>
<line x1="338.9" y1="378.8" x2="338.9" y2="384.8" stroke="#1e1e1e" stroke-width="1.2"/>
<text transform="translate(331.9,399.4) scale(0.81,1)" font-size="10.3">10<tspan font-size="6.9" dy="-2.9" dx="0.6">-</tspan><tspan font-size="6.9" dx="1.5">2</tspan></text>
<line x1="360.5" y1="378.8" x2="360.5" y2="384.8" stroke="#1e1e1e" stroke-width="1.2"/>
<text transform="translate(353.5,399.4) scale(0.81,1)" font-size="10.3">10<tspan font-size="6.9" dy="-2.9" dx="0.6">-</tspan><tspan font-size="6.9" dx="1.5">1</tspan></text>
<line x1="382.1" y1="378.8" x2="382.1" y2="384.8" stroke="#1e1e1e" stroke-width="1.2"/>
<text transform="translate(375.1,399.4) scale(0.81,1)" font-size="10.3">10<tspan font-size="6.9" dy="-2.9" dx="0.7">0</tspan></text>
<line x1="403.7" y1="378.8" x2="403.7" y2="384.8" stroke="#1e1e1e" stroke-width="1.2"/>
<text transform="translate(396.7,399.4) scale(0.81,1)" font-size="10.3">10<tspan font-size="6.9" dy="-2.9" dx="0.7">1</tspan></text>
<line x1="425.3" y1="378.8" x2="425.3" y2="384.8" stroke="#1e1e1e" stroke-width="1.2"/>
<text transform="translate(418.3,399.4) scale(0.81,1)" font-size="10.3">10<tspan font-size="6.9" dy="-2.9" dx="0.7">2</tspan></text>
<line x1="446.9" y1="378.8" x2="446.9" y2="384.8" stroke="#1e1e1e" stroke-width="1.2"/>
<text transform="translate(439.9,399.4) scale(0.81,1)" font-size="10.3">10<tspan font-size="6.9" dy="-2.9" dx="0.7">3</tspan></text>
<text x="374.5" y="281.8" font-size="12.0" text-anchor="start" font-weight="normal" >GroMM</text>
<text x="391.3" y="414.6" font-size="10.6" text-anchor="middle" font-weight="normal" >Fc-fusion (nM)</text>
<circle cx="338.9" cy="378.8" r="4.3" fill="white" stroke="#1e1e1e" stroke-width="1.15"/>
<path d="M338.9,378.7 L339.76,378.69 L340.62,378.68 L341.49,378.67 L342.35,378.66 L343.21,378.65 L344.07,378.63 L344.94,378.62 L345.8,378.6 L346.66,378.58 L347.52,378.56 L348.38,378.54 L349.25,378.52 L350.11,378.49 L350.97,378.47 L351.83,378.44 L352.69,378.4 L353.56,378.37 L354.42,378.33 L355.28,378.29 L356.14,378.24 L357.01,378.19 L357.87,378.14 L358.73,378.08 L359.59,378.02 L360.45,377.95 L361.32,377.87 L362.18,377.79 L363.04,377.7 L363.9,377.61 L364.77,377.5 L365.63,377.39 L366.49,377.26 L367.35,377.13 L368.21,376.98 L369.08,376.82 L369.94,376.65 L370.8,376.47 L371.66,376.26 L372.53,376.04 L373.39,375.81 L374.25,375.55 L375.11,375.27 L375.97,374.97 L376.84,374.65 L377.7,374.3 L378.56,373.92 L379.42,373.52 L380.28,373.08 L381.15,372.61 L382.01,372.1 L382.87,371.56 L383.73,370.98 L384.6,370.35 L385.46,369.69 L386.32,368.98 L387.18,368.22 L388.04,367.41 L388.91,366.55 L389.77,365.64 L390.63,364.68 L391.49,363.66 L392.36,362.59 L393.22,361.47 L394.08,360.29 L394.94,359.06 L395.8,357.77 L396.67,356.44 L397.53,355.05 L398.39,353.62 L399.25,352.14 L400.12,350.63 L400.98,349.08 L401.84,347.49 L402.7,345.89 L403.56,344.26 L404.43,342.61 L405.29,340.96 L406.15,339.31 L407.01,337.66 L407.87,336.01 L408.74,334.39 L409.6,332.78 L410.46,331.2 L411.32,329.65 L412.19,328.14 L413.05,326.66 L413.91,325.23 L414.77,323.85 L415.63,322.51 L416.5,321.23 L417.36,320 L418.22,318.82 L419.08,317.7 L419.95,316.63 L420.81,315.62 L421.67,314.66 L422.53,313.76 L423.39,312.9 L424.26,312.1 L425.12,311.34 L425.98,310.63 L426.84,309.96 L427.71,309.34 L428.57,308.76 L429.43,308.22 L430.29,307.72 L431.15,307.25 L432.02,306.81 L432.88,306.41 L433.74,306.03 L434.6,305.68 L435.46,305.36 L436.33,305.06 L437.19,304.78 L438.05,304.53 L438.91,304.29 L439.78,304.08 L440.64,303.87 L441.5,303.69" stroke="#1e1e1e" stroke-width="1.1" fill="none" />
<path d="M338.9,378.7 L339.76,378.69 L340.62,378.68 L341.49,378.67 L342.35,378.66 L343.21,378.65 L344.07,378.63 L344.94,378.62 L345.8,378.6 L346.66,378.58 L347.52,378.56 L348.38,378.54 L349.25,378.52 L350.11,378.49 L350.97,378.47 L351.83,378.44 L352.69,378.4 L353.56,378.37 L354.42,378.33 L355.28,378.29 L356.14,378.24 L357.01,378.19 L357.87,378.14 L358.73,378.08 L359.59,378.01 L360.45,377.94 L361.32,377.86 L362.18,377.78 L363.04,377.69 L363.9,377.59 L364.77,377.49 L365.63,377.37 L366.49,377.25 L367.35,377.12 L368.21,376.97 L369.08,376.82 L369.94,376.65 L370.8,376.47 L371.66,376.27 L372.53,376.06 L373.39,375.84 L374.25,375.59 L375.11,375.34 L375.97,375.06 L376.84,374.76 L377.7,374.45 L378.56,374.12 L379.42,373.76 L380.28,373.39 L381.15,372.99 L382.01,372.58 L382.87,372.14 L383.73,371.68 L384.6,371.2 L385.46,370.7 L386.32,370.18 L387.18,369.64 L388.04,369.09 L388.91,368.52 L389.77,367.94 L390.63,367.34 L391.49,366.73 L392.36,366.12 L393.22,365.5 L394.08,364.87 L394.94,364.25 L395.8,363.62 L396.67,363 L397.53,362.39 L398.39,361.78 L399.25,361.18 L400.12,360.6 L400.98,360.03 L401.84,359.48 L402.7,358.94 L403.56,358.42 L404.43,357.92 L405.29,357.44 L406.15,356.98 L407.01,356.54 L407.87,356.13 L408.74,355.73 L409.6,355.36 L410.46,355 L411.32,354.67 L412.19,354.35 L413.05,354.06 L413.91,353.78 L414.77,353.52 L415.63,353.28 L416.5,353.06 L417.36,352.85 L418.22,352.65 L419.08,352.47 L419.95,352.3 L420.81,352.15 L421.67,352 L422.53,351.87 L423.39,351.74 L424.26,351.63 L425.12,351.52 L425.98,351.43 L426.84,351.34 L427.71,351.25 L428.57,351.18 L429.43,351.11 L430.29,351.04 L431.15,350.98 L432.02,350.93 L432.88,350.88 L433.74,350.83 L434.6,350.79 L435.46,350.75 L436.33,350.71 L437.19,350.68 L438.05,350.65 L438.91,350.62 L439.78,350.6 L440.64,350.57 L441.5,350.55" stroke="#1e1e1e" stroke-width="1.1" fill="none" />
<line x1="436.1" y1="350.57" x2="444.7" y2="350.57" stroke="#1e1e1e" stroke-width="1.0"/>
<line x1="436.1" y1="358.14" x2="444.7" y2="358.14" stroke="#1e1e1e" stroke-width="1.0"/>
<circle cx="388.36" cy="365.12" r="4.2" fill="#1e1e1e" stroke="#1e1e1e" stroke-width="1.1"/>
<circle cx="401.37" cy="349.41" r="4.2" fill="#1e1e1e" stroke="#1e1e1e" stroke-width="1.1"/>
<circle cx="414.39" cy="326.13" r="4.2" fill="#1e1e1e" stroke="#1e1e1e" stroke-width="1.1"/>
<circle cx="427.39" cy="304.89" r="4.2" fill="#1e1e1e" stroke="#1e1e1e" stroke-width="1.1"/>
<circle cx="440.4" cy="306.92" r="4.2" fill="#1e1e1e" stroke="#1e1e1e" stroke-width="1.1"/>
<circle cx="388.36" cy="368.32" r="4.3" fill="none" stroke="#1e1e1e" stroke-width="1.15"/>
<circle cx="401.37" cy="360.47" r="4.3" fill="none" stroke="#1e1e1e" stroke-width="1.15"/>
<circle cx="414.39" cy="354.65" r="4.3" fill="none" stroke="#1e1e1e" stroke-width="1.15"/>
<circle cx="427.39" cy="346.21" r="4.3" fill="none" stroke="#1e1e1e" stroke-width="1.15"/>
<circle cx="440.4" cy="354.36" r="4.3" fill="none" stroke="#1e1e1e" stroke-width="1.15"/>
<line x1="489.6" y1="291.3" x2="489.6" y2="378.7" stroke="#1e1e1e" stroke-width="1.2"/>
<line x1="489" y1="378.2" x2="600.45" y2="378.2" stroke="#1e1e1e" stroke-width="1.2"/>
<line x1="483.4" y1="378.2" x2="489.6" y2="378.2" stroke="#1e1e1e" stroke-width="1.2"/>
<text transform="translate(479.2,381.7) scale(0.81,1)" font-size="10.3" text-anchor="end" font-weight="normal" >0</text>
<line x1="483.4" y1="349.4" x2="489.6" y2="349.4" stroke="#1e1e1e" stroke-width="1.2"/>
<text transform="translate(479.2,352.9) scale(0.81,1)" font-size="10.3" text-anchor="end" font-weight="normal" >0.1</text>
<line x1="483.4" y1="320.6" x2="489.6" y2="320.6" stroke="#1e1e1e" stroke-width="1.2"/>
<text transform="translate(479.2,324.1) scale(0.81,1)" font-size="10.3" text-anchor="end" font-weight="normal" >0.2</text>
<line x1="483.4" y1="291.8" x2="489.6" y2="291.8" stroke="#1e1e1e" stroke-width="1.2"/>
<text transform="translate(479.2,295.3) scale(0.81,1)" font-size="10.3" text-anchor="end" font-weight="normal" >0.3</text>
<line x1="489.6" y1="378.2" x2="489.6" y2="384.2" stroke="#1e1e1e" stroke-width="1.2"/>
<text transform="translate(482.6,398.2) scale(0.81,1)" font-size="10.3">10<tspan font-size="6.9" dy="-2.9" dx="0.6">-</tspan><tspan font-size="6.9" dx="1.5">2</tspan></text>
<line x1="511.65" y1="378.2" x2="511.65" y2="384.2" stroke="#1e1e1e" stroke-width="1.2"/>
<text transform="translate(504.65,398.2) scale(0.81,1)" font-size="10.3">10<tspan font-size="6.9" dy="-2.9" dx="0.6">-</tspan><tspan font-size="6.9" dx="1.5">1</tspan></text>
<line x1="533.7" y1="378.2" x2="533.7" y2="384.2" stroke="#1e1e1e" stroke-width="1.2"/>
<text transform="translate(526.7,398.2) scale(0.81,1)" font-size="10.3">10<tspan font-size="6.9" dy="-2.9" dx="0.7">0</tspan></text>
<line x1="555.75" y1="378.2" x2="555.75" y2="384.2" stroke="#1e1e1e" stroke-width="1.2"/>
<text transform="translate(548.75,398.2) scale(0.81,1)" font-size="10.3">10<tspan font-size="6.9" dy="-2.9" dx="0.7">1</tspan></text>
<line x1="577.8" y1="378.2" x2="577.8" y2="384.2" stroke="#1e1e1e" stroke-width="1.2"/>
<text transform="translate(570.8,398.2) scale(0.81,1)" font-size="10.3">10<tspan font-size="6.9" dy="-2.9" dx="0.7">2</tspan></text>
<line x1="599.85" y1="378.2" x2="599.85" y2="384.2" stroke="#1e1e1e" stroke-width="1.2"/>
<text transform="translate(592.85,398.2) scale(0.81,1)" font-size="10.3">10<tspan font-size="6.9" dy="-2.9" dx="0.7">3</tspan></text>
<text x="534" y="281.8" font-size="12.0" text-anchor="start" font-weight="normal" >fMA</text>
<text x="541.6" y="414.2" font-size="10.6" text-anchor="middle" font-weight="normal" >Fc-fusion (nM)</text>
<circle cx="489.6" cy="378.2" r="4.3" fill="white" stroke="#1e1e1e" stroke-width="1.15"/>
<path d="M489.6,378.16 L490.48,378.16 L491.36,378.16 L492.24,378.15 L493.12,378.15 L494,378.14 L494.88,378.14 L495.76,378.13 L496.64,378.13 L497.52,378.12 L498.4,378.11 L499.28,378.1 L500.16,378.09 L501.04,378.08 L501.92,378.07 L502.8,378.06 L503.68,378.05 L504.56,378.03 L505.44,378.02 L506.32,378 L507.2,377.98 L508.08,377.96 L508.96,377.94 L509.84,377.91 L510.72,377.89 L511.6,377.86 L512.48,377.82 L513.36,377.79 L514.24,377.75 L515.12,377.71 L516,377.66 L516.88,377.61 L517.76,377.55 L518.64,377.49 L519.52,377.43 L520.41,377.35 L521.29,377.27 L522.17,377.19 L523.05,377.09 L523.93,376.99 L524.81,376.88 L525.69,376.75 L526.57,376.62 L527.45,376.47 L528.33,376.31 L529.21,376.14 L530.09,375.95 L530.97,375.74 L531.85,375.52 L532.73,375.28 L533.61,375.01 L534.49,374.72 L535.37,374.41 L536.25,374.07 L537.13,373.7 L538.01,373.3 L538.89,372.87 L539.77,372.41 L540.65,371.91 L541.53,371.37 L542.41,370.78 L543.29,370.16 L544.17,369.49 L545.05,368.77 L545.93,368 L546.81,367.18 L547.69,366.3 L548.57,365.37 L549.45,364.39 L550.33,363.34 L551.21,362.24 L552.09,361.09 L552.97,359.87 L553.85,358.6 L554.73,357.28 L555.61,355.9 L556.49,354.47 L557.37,353 L558.25,351.49 L559.13,349.94 L560.01,348.36 L560.89,346.75 L561.77,345.12 L562.65,343.48 L563.53,341.84 L564.41,340.19 L565.29,338.55 L566.17,336.92 L567.05,335.31 L567.93,333.73 L568.81,332.18 L569.69,330.67 L570.57,329.2 L571.45,327.77 L572.33,326.39 L573.21,325.07 L574.09,323.8 L574.97,322.58 L575.85,321.42 L576.73,320.32 L577.61,319.28 L578.49,318.29 L579.38,317.36 L580.26,316.48 L581.14,315.66 L582.02,314.89 L582.9,314.17 L583.78,313.5 L584.66,312.87 L585.54,312.29 L586.42,311.75 L587.3,311.25 L588.18,310.78 L589.06,310.35 L589.94,309.95 L590.82,309.58 L591.7,309.24 L592.58,308.93 L593.46,308.64 L594.34,308.38" stroke="#1e1e1e" stroke-width="1.1" fill="none" />
<path d="M489.6,378.2 L594.34,378.2" stroke="#1e1e1e" stroke-width="1.1" fill="none" />
<line x1="553.37" y1="347.38" x2="553.37" y2="356.02" stroke="#1e1e1e" stroke-width="1.0"/>
<line x1="553.37" y1="356.02" x2="553.37" y2="364.66" stroke="#1e1e1e" stroke-width="1.0"/>
<line x1="549.07" y1="347.38" x2="557.67" y2="347.38" stroke="#1e1e1e" stroke-width="1.0"/>
<line x1="549.07" y1="364.66" x2="557.67" y2="364.66" stroke="#1e1e1e" stroke-width="1.0"/>
<circle cx="540.1" cy="372.44" r="4.2" fill="#1e1e1e" stroke="#1e1e1e" stroke-width="1.1"/>
<circle cx="553.37" cy="356.02" r="4.2" fill="#1e1e1e" stroke="#1e1e1e" stroke-width="1.1"/>
<circle cx="566.66" cy="341.62" r="4.2" fill="#1e1e1e" stroke="#1e1e1e" stroke-width="1.1"/>
<circle cx="579.94" cy="309.94" r="4.2" fill="#1e1e1e" stroke="#1e1e1e" stroke-width="1.1"/>
<circle cx="593.21" cy="312.25" r="4.2" fill="#1e1e1e" stroke="#1e1e1e" stroke-width="1.1"/>
<circle cx="540.1" cy="378.2" r="4.3" fill="none" stroke="#1e1e1e" stroke-width="1.15"/>
<circle cx="553.37" cy="378.2" r="4.3" fill="none" stroke="#1e1e1e" stroke-width="1.15"/>
<circle cx="566.66" cy="378.2" r="4.3" fill="none" stroke="#1e1e1e" stroke-width="1.15"/>
<circle cx="579.94" cy="378.2" r="4.3" fill="none" stroke="#1e1e1e" stroke-width="1.15"/>
<circle cx="593.21" cy="378.2" r="4.3" fill="none" stroke="#1e1e1e" stroke-width="1.15"/>
<line x1="608.7" y1="324.9" x2="631.6" y2="324.9" stroke="#1e1e1e" stroke-width="1.2"/>
<circle cx="619.9" cy="324.9" r="4" fill="#1e1e1e" stroke="#1e1e1e" stroke-width="1.1"/>
<text x="634.1" y="328.5" font-size="10.6" text-anchor="start" font-weight="normal" >TREM2-Fc</text>
<line x1="609.9" y1="340.4" x2="632.9" y2="340.4" stroke="#1e1e1e" stroke-width="1.2"/>
<circle cx="621.1" cy="340.4" r="3.3" fill="white" stroke="#1e1e1e" stroke-width="1.1"/>
<text x="636" y="343.8" font-size="10.6" text-anchor="start" font-weight="normal" >Mincle-Fc</text>
<text x="38" y="9.1" font-size="12.0" text-anchor="start" font-weight="normal" >TDM</text>
<text x="104.2" y="8.9" font-size="12.0" text-anchor="start" font-weight="normal" >GMM</text>
<text x="158.4" y="8.9" font-size="12.0" text-anchor="start" font-weight="normal" >GroMM</text>
<text x="216.8" y="8.9" font-size="12.0" text-anchor="start" font-weight="normal" >MA</text>
<text x="213.6" y="23.8" font-size="12.0" text-anchor="start" font-weight="normal" >(fMA)</text>
<text x="16.4" y="48.6" font-size="5.3" font-weight="bold" fill="#222">HO</text>
<line x1="23.4" y1="47.2" x2="24.6" y2="50.4" stroke="#1e1e1e" stroke-width="0.8"/>
<line x1="24.6" y1="50.4" x2="30.2" y2="50.4" stroke="#1e1e1e" stroke-width="0.8"/>
<line x1="30.2" y1="50.4" x2="31.8" y2="47.8" stroke="#1e1e1e" stroke-width="0.8"/>
<text x="30.6" y="48.2" font-size="5.3" font-weight="bold" fill="#222">C</text>
<line x1="34.4" y1="45.6" x2="39.6" y2="45.6" stroke="#1e1e1e" stroke-width="0.8"/>
<line x1="34.4" y1="46.6" x2="39.6" y2="46.6" stroke="#1e1e1e" stroke-width="0.8"/>
<text x="39.8" y="48.2" font-size="5.3" font-weight="bold" fill="#222">O</text>
<line x1="33.4" y1="43.8" x2="36.2" y2="40.4" stroke="#1e1e1e" stroke-width="0.8"/>
<text x="35.6" y="41" font-size="5.3" font-weight="bold" fill="#222">O</text>
<line x1="39.2" y1="37.4" x2="44.6" y2="33.8" stroke="#1e1e1e" stroke-width="0.8"/>
<path d="M23.7,155.7 L20.2,157.6 L23.7,159.5" stroke="#2a2a2a" stroke-width="0.95" fill="none" />
<path d="M25.6,53.4 L23.6,56.5 L25.6,59.6 L23.6,62.7 L25.6,65.8 L23.6,68.9 L25.6,72 L23.6,75.1 L25.6,78.2 L23.6,81.3 L25.6,84.4 L23.6,87.5 L25.6,90.6 L23.6,93.7 L25.6,96.8 L23.6,99.9 L25.6,103 L23.6,106.1 L25.6,109.2 L23.6,112.3 L25.6,115.4 L23.6,118.5 L25.6,121.6 L23.6,124.7 L25.6,127.8 L23.6,130.9 L25.6,134 L23.6,137.1 L25.6,140.2 L23.6,143.3 L25.6,146.4 L23.6,149.5 L25.6,152.6 L23.7,155.7 L23.7,159.5 L25.6,162.6 L23.6,165.7 L25.6,168.8 L23.6,171.9 L25.6,175 L23.6,178.1 L25.6,181.2 L23.6,184.3 L25.6,187.4 L23.6,190.5 L25.6,193.6 L23.6,196.7 L25.6,199.8 L23.6,202.9 L25.6,206 L23.6,209.1 L25.6,212.2 L24.31,214.2" stroke="#2a2a2a" stroke-width="1.05" fill="none" stroke-linejoin="miter"/>
<path d="M29.5,106.1 L26,108 L29.5,109.9" stroke="#2a2a2a" stroke-width="0.95" fill="none" />
<path d="M31.4,53.4 L29.4,56.5 L31.4,59.6 L29.4,62.7 L31.4,65.8 L29.4,68.9 L31.4,72 L29.4,75.1 L31.4,78.2 L29.4,81.3 L31.4,84.4 L29.4,87.5 L31.4,90.6 L29.4,93.7 L31.4,96.8 L29.4,99.9 L31.4,103 L29.5,106.1 L29.5,109.9 L31.4,113 L29.4,116.1 L31.4,119.2 L29.4,122.3 L31.4,125.4 L29.92,127.7" stroke="#2a2a2a" stroke-width="1.05" fill="none" stroke-linejoin="miter"/>
<line x1="39.4" y1="37.2" x2="44.6" y2="33.6" stroke="#1e1e1e" stroke-width="0.8"/>
<line x1="44.6" y1="33.6" x2="49.4" y2="35.9" stroke="#1e1e1e" stroke-width="0.8"/>
<text x="44.6" y="42.2" font-size="5.3" font-weight="bold" fill="#222">O</text>
<path d="M49.4,35.9 L50.1,28" stroke="#1e1e1e" stroke-width="0.8" fill="none" />
<path d="M48.4,39.6 L49.4,35.9" stroke="#1e1e1e" stroke-width="0.8" fill="none" />
<path d="M48.6,41.6 L51.5,45.3 L53.7,40.3 L55.9,34.5" stroke="#1e1e1e" stroke-width="0.8" fill="none" />
<path d="M50.1,28 L55.9,34.5" stroke="#1e1e1e" stroke-width="1.7" fill="none" />
<text x="43.2" y="25.8" font-size="5.3" font-weight="bold" fill="#222">HO</text>
<line x1="49.6" y1="25.8" x2="50.1" y2="28" stroke="#1e1e1e" stroke-width="0.8"/>
<line x1="55.9" y1="34.5" x2="58.8" y2="33.4" stroke="#1e1e1e" stroke-width="0.8"/>
<text x="58.7" y="34.8" font-size="5.3" font-weight="bold" fill="#222">OH</text>
<line x1="53.7" y1="40.3" x2="54.4" y2="41.6" stroke="#1e1e1e" stroke-width="0.8"/>
<text x="54" y="45" font-size="5.3" font-weight="bold" fill="#222">OH</text>
<line x1="51.5" y1="45.3" x2="55.6" y2="47.6" stroke="#1e1e1e" stroke-width="0.8"/>
<text x="55.4" y="51.2" font-size="5.3" font-weight="bold" fill="#222">O</text>
<line x1="59" y1="49.8" x2="63.8" y2="51.8" stroke="#1e1e1e" stroke-width="0.8"/>
<text x="63" y="50.4" font-size="5.3" font-weight="bold" fill="#222">HO</text>
<path d="M63.8,51.8 L71,51.1 L78.9,49.6 L82.5,55.4" stroke="#1e1e1e" stroke-width="0.8" fill="none" />
<path d="M63.8,51.8 L66,55.4" stroke="#1e1e1e" stroke-width="0.8" fill="none" />
<text x="65.9" y="60" font-size="5.3" font-weight="bold" fill="#222">O</text>
<path d="M69.6,57.4 L75.3,56.1 L82.5,55.4" stroke="#1e1e1e" stroke-width="1.7" fill="none" />
<line x1="71" y1="51.1" x2="70.4" y2="49.6" stroke="#1e1e1e" stroke-width="0.8"/>
<line x1="78.9" y1="49.6" x2="80" y2="47.8" stroke="#1e1e1e" stroke-width="0.8"/>
<text x="79.6" y="47.9" font-size="5.3" font-weight="bold" fill="#222">OH</text>
<line x1="82.5" y1="55.4" x2="84.8" y2="57.2" stroke="#1e1e1e" stroke-width="0.8"/>
<text x="84.7" y="60.5" font-size="5.3" font-weight="bold" fill="#222">OH</text>
<line x1="75.3" y1="56.1" x2="76" y2="61.2" stroke="#1e1e1e" stroke-width="0.8"/>
<line x1="76" y1="61.2" x2="74.6" y2="62.6" stroke="#1e1e1e" stroke-width="0.8"/>
<text x="71" y="66.4" font-size="5.3" font-weight="bold" fill="#222">O</text>
<line x1="73.6" y1="66.8" x2="76" y2="70" stroke="#1e1e1e" stroke-width="0.8"/>
<text x="74.4" y="74.4" font-size="5.3" font-weight="bold" fill="#222">C</text>
<text x="64.4" y="74.8" font-size="5.3" font-weight="bold" fill="#222">O</text>
<line x1="68.6" y1="72.4" x2="74.2" y2="72.4" stroke="#1e1e1e" stroke-width="0.8"/>
<line x1="68.6" y1="73.4" x2="74.2" y2="73.4" stroke="#1e1e1e" stroke-width="0.8"/>
<line x1="77.6" y1="74.6" x2="80.2" y2="77" stroke="#1e1e1e" stroke-width="0.8"/>
<line x1="80.2" y1="77" x2="85.4" y2="77" stroke="#1e1e1e" stroke-width="0.8"/>
<line x1="85.4" y1="77" x2="86.8" y2="74.4" stroke="#1e1e1e" stroke-width="0.8"/>
<text x="86.6" y="73.8" font-size="5.3" font-weight="bold" fill="#222">OH</text>
<path d="M81.2,78 L79.2,81.1 L81.2,84.2 L79.2,87.3 L81.2,90.4 L79.2,93.5 L81.2,96.6 L79.2,99.7 L81.2,102.8 L79.2,105.9 L81.2,109 L79.2,112.1 L81.2,115.2 L79.2,118.3 L81.2,121.4 L79.2,124.5 L81.2,127.6 L79.2,130.7 L81.2,133.8 L79.2,136.9 L81.2,140 L79.2,143.1 L81.2,146.2 L79.2,149.3 L81.2,152.4 L80.68,153.2" stroke="#2a2a2a" stroke-width="1.05" fill="none" stroke-linejoin="miter"/>
<path d="M84.7,131.8 L81.2,133.7 L84.7,135.6" stroke="#2a2a2a" stroke-width="0.95" fill="none" />
<path d="M86.5,180.8 L90,182.7 L86.5,184.6" stroke="#2a2a2a" stroke-width="0.95" fill="none" />
<path d="M86.6,79.1 L84.6,82.2 L86.6,85.3 L84.6,88.4 L86.6,91.5 L84.6,94.6 L86.6,97.7 L84.6,100.8 L86.6,103.9 L84.6,107 L86.6,110.1 L84.6,113.2 L86.6,116.3 L84.6,119.4 L86.6,122.5 L84.6,125.6 L86.6,128.7 L84.7,131.8 L84.7,135.6 L84.6,140.5 L86.6,143.6 L84.6,146.7 L86.6,149.8 L84.6,152.9 L86.6,156 L84.6,159.1 L86.6,162.2 L84.6,165.3 L86.6,168.4 L84.6,171.5 L86.6,174.6 L84.6,177.7 L86.5,180.8 L86.5,184.6 L84.6,187.7 L86.6,190.8 L84.6,193.9 L86.6,197 L84.6,200.1 L86.6,203.2 L84.6,206.3 L86.6,209.4 L84.6,212.5 L86.6,215.6 L84.6,218.7 L86.6,221.8 L84.6,224.9 L86.6,228 L84.6,231.1 L86.6,234.2 L84.6,237.3 L86.54,240.3" stroke="#2a2a2a" stroke-width="1.05" fill="none" stroke-linejoin="miter"/>
<text x="104.8" y="26.8" font-size="5.3" font-weight="bold" fill="#222">HO</text>
<line x1="110.6" y1="25.2" x2="114.4" y2="26.8" stroke="#1e1e1e" stroke-width="0.8"/>
<path d="M114.4,26.8 L118,30.2" stroke="#1e1e1e" stroke-width="0.8" fill="none" />
<text x="116.8" y="33.6" font-size="5.3" font-weight="bold" fill="#222">O</text>
<path d="M120.4,31.8 L125.2,29.6 L132.4,28 L128.8,23.2 L122.2,25.6 L114.4,26.8" stroke="#1e1e1e" stroke-width="0.8" fill="none" />
<path d="M120.4,31.8 L125.2,29.6 L132.4,28" stroke="#1e1e1e" stroke-width="1.4" fill="none" />
<text x="114.2" y="23.8" font-size="5.3" font-weight="bold" fill="#222">HO</text>
<line x1="119.4" y1="23" x2="122.2" y2="25.6" stroke="#1e1e1e" stroke-width="0.8"/>
<line x1="128.8" y1="23.2" x2="131.4" y2="20.6" stroke="#1e1e1e" stroke-width="0.8"/>
<text x="130.8" y="21.2" font-size="5.3" font-weight="bold" fill="#222">OH</text>
<line x1="132.4" y1="28" x2="136.4" y2="31.4" stroke="#1e1e1e" stroke-width="0.8"/>
<text x="136" y="33.8" font-size="5.3" font-weight="bold" fill="#222">OH</text>
<line x1="125.2" y1="29.6" x2="127.6" y2="34.8" stroke="#1e1e1e" stroke-width="0.8"/>
<line x1="127.6" y1="34.8" x2="124.8" y2="36.6" stroke="#1e1e1e" stroke-width="0.8"/>
<text x="121.6" y="39.6" font-size="5.3" font-weight="bold" fill="#222">O</text>
<line x1="124.2" y1="40.4" x2="126.8" y2="44" stroke="#1e1e1e" stroke-width="0.8"/>
<text x="125.2" y="47.8" font-size="5.3" font-weight="bold" fill="#222">C</text>
<text x="115.6" y="47.8" font-size="5.3" font-weight="bold" fill="#222">O</text>
<line x1="119.8" y1="45.6" x2="125.2" y2="45.6" stroke="#1e1e1e" stroke-width="0.8"/>
<line x1="119.8" y1="46.6" x2="125.2" y2="46.6" stroke="#1e1e1e" stroke-width="0.8"/>
<line x1="128.4" y1="47.6" x2="131" y2="49.8" stroke="#1e1e1e" stroke-width="0.8"/>
<line x1="131" y1="49.8" x2="136.2" y2="49.8" stroke="#1e1e1e" stroke-width="0.8"/>
<line x1="136.2" y1="49.8" x2="137.4" y2="47.2" stroke="#1e1e1e" stroke-width="0.8"/>
<text x="137" y="47.4" font-size="5.3" font-weight="bold" fill="#222">OH</text>
<path d="M132,50.6 L130,53.7 L132,56.8 L130,59.9 L132,63 L130,66.1 L132,69.2 L130,72.3 L132,75.4 L130,78.5 L132,81.6 L130,84.7 L132,87.8 L130,90.9 L132,94 L130,97.1 L132,100.2 L130,103.3 L132,106.4 L130,109.5 L132,112.6 L130,115.7 L132,118.8 L130,121.9 L132,125 L131.1,126.4" stroke="#2a2a2a" stroke-width="1.05" fill="none" stroke-linejoin="miter"/>
<path d="M135.3,105.3 L131.8,107.2 L135.3,109.1" stroke="#2a2a2a" stroke-width="0.95" fill="none" />
<path d="M137.1,154.3 L140.6,156.2 L137.1,158.1" stroke="#2a2a2a" stroke-width="0.95" fill="none" />
<path d="M137.2,52.6 L135.2,55.7 L137.2,58.8 L135.2,61.9 L137.2,65 L135.2,68.1 L137.2,71.2 L135.2,74.3 L137.2,77.4 L135.2,80.5 L137.2,83.6 L135.2,86.7 L137.2,89.8 L135.2,92.9 L137.2,96 L135.2,99.1 L137.2,102.2 L135.3,105.3 L135.3,109.1 L135.2,114 L137.2,117.1 L135.2,120.2 L137.2,123.3 L135.2,126.4 L137.2,129.5 L135.2,132.6 L137.2,135.7 L135.2,138.8 L137.2,141.9 L135.2,145 L137.2,148.1 L135.2,151.2 L137.1,154.3 L137.1,158.1 L135.2,161.2 L137.2,164.3 L135.2,167.4 L137.2,170.5 L135.2,173.6 L137.2,176.7 L135.2,179.8 L137.2,182.9 L135.2,186 L137.2,189.1 L135.2,192.2 L137.2,195.3 L135.2,198.4 L137.2,201.5 L135.2,204.6 L137.2,207.7 L135.2,210.8 L137.14,213.8" stroke="#2a2a2a" stroke-width="1.05" fill="none" stroke-linejoin="miter"/>
<text x="187.6" y="24.2" font-size="5.3" font-weight="bold" fill="#222">OH</text>
<line x1="188.2" y1="24.8" x2="188.8" y2="30.8" stroke="#1e1e1e" stroke-width="0.8"/>
<line x1="188.8" y1="30.8" x2="191.8" y2="31.6" stroke="#1e1e1e" stroke-width="0.8"/>
<text x="191.6" y="34" font-size="5.3" font-weight="bold" fill="#222">OH</text>
<line x1="188.8" y1="30.8" x2="186.6" y2="33.2" stroke="#1e1e1e" stroke-width="0.8"/>
<text x="182.8" y="37" font-size="5.3" font-weight="bold" fill="#222">O</text>
<line x1="184.6" y1="37.6" x2="184.6" y2="40.4" stroke="#1e1e1e" stroke-width="0.8"/>
<text x="183" y="44.4" font-size="5.3" font-weight="bold" fill="#222">C</text>
<line x1="186.4" y1="44" x2="189.6" y2="47" stroke="#1e1e1e" stroke-width="0.8"/>
<line x1="185.8" y1="44.8" x2="189" y2="47.8" stroke="#1e1e1e" stroke-width="0.8"/>
<text x="189" y="50.6" font-size="5.3" font-weight="bold" fill="#222">O</text>
<text x="168" y="47.8" font-size="5.3" font-weight="bold" fill="#222">HO</text>
<line x1="175" y1="47" x2="177" y2="49.8" stroke="#1e1e1e" stroke-width="0.8"/>
<line x1="177" y1="49.8" x2="181.8" y2="49.8" stroke="#1e1e1e" stroke-width="0.8"/>
<line x1="181.8" y1="49.8" x2="184" y2="45.8" stroke="#1e1e1e" stroke-width="0.8"/>
<path d="M176.1,154.5 L172.6,156.4 L176.1,158.3" stroke="#2a2a2a" stroke-width="0.95" fill="none" />
<path d="M178,52.2 L176,55.3 L178,58.4 L176,61.5 L178,64.6 L176,67.7 L178,70.8 L176,73.9 L178,77 L176,80.1 L178,83.2 L176,86.3 L178,89.4 L176,92.5 L178,95.6 L176,98.7 L178,101.8 L176,104.9 L178,108 L176,111.1 L178,114.2 L176,117.3 L178,120.4 L176,123.5 L178,126.6 L176,129.7 L178,132.8 L176,135.9 L178,139 L176,142.1 L178,145.2 L176,148.3 L178,151.4 L176.1,154.5 L176.1,158.3 L178,161.4 L176,164.5 L178,167.6 L176,170.7 L178,173.8 L176,176.9 L178,180 L176,183.1 L178,186.2 L176,189.3 L178,192.4 L176,195.5 L178,198.6 L176,201.7 L178,204.8 L176,207.9 L178,211 L176.19,213.8" stroke="#2a2a2a" stroke-width="1.05" fill="none" stroke-linejoin="miter"/>
<path d="M181,105.4 L177.5,107.3 L181,109.2" stroke="#2a2a2a" stroke-width="0.95" fill="none" />
<path d="M182.9,52.7 L180.9,55.8 L182.9,58.9 L180.9,62 L182.9,65.1 L180.9,68.2 L182.9,71.3 L180.9,74.4 L182.9,77.5 L180.9,80.6 L182.9,83.7 L180.9,86.8 L182.9,89.9 L180.9,93 L182.9,96.1 L180.9,99.2 L182.9,102.3 L181,105.4 L181,109.2 L182.9,112.3 L180.9,115.4 L182.9,118.5 L180.9,121.6 L182.9,124.7 L181.67,126.6" stroke="#2a2a2a" stroke-width="1.05" fill="none" stroke-linejoin="miter"/>
<text x="230" y="36" font-size="5.3" font-weight="bold" fill="#222">OH</text>
<line x1="231.2" y1="36.6" x2="231.2" y2="40" stroke="#1e1e1e" stroke-width="0.8"/>
<text x="229.2" y="44.2" font-size="5.3" font-weight="bold" fill="#222">C</text>
<line x1="232.6" y1="43.8" x2="235.6" y2="46.6" stroke="#1e1e1e" stroke-width="0.8"/>
<line x1="232" y1="44.6" x2="235" y2="47.4" stroke="#1e1e1e" stroke-width="0.8"/>
<text x="235.4" y="50" font-size="5.3" font-weight="bold" fill="#222">O</text>
<text x="215" y="47.8" font-size="5.3" font-weight="bold" fill="#222">HO</text>
<line x1="222" y1="47" x2="223.6" y2="49.8" stroke="#1e1e1e" stroke-width="0.8"/>
<line x1="223.6" y1="49.8" x2="228.8" y2="49.8" stroke="#1e1e1e" stroke-width="0.8"/>
<line x1="228.8" y1="49.8" x2="230.6" y2="45.8" stroke="#1e1e1e" stroke-width="0.8"/>
<path d="M222.7,154.5 L219.2,156.4 L222.7,158.3" stroke="#2a2a2a" stroke-width="0.95" fill="none" />
<path d="M224.6,52.2 L222.6,55.3 L224.6,58.4 L222.6,61.5 L224.6,64.6 L222.6,67.7 L224.6,70.8 L222.6,73.9 L224.6,77 L222.6,80.1 L224.6,83.2 L222.6,86.3 L224.6,89.4 L222.6,92.5 L224.6,95.6 L222.6,98.7 L224.6,101.8 L222.6,104.9 L224.6,108 L222.6,111.1 L224.6,114.2 L222.6,117.3 L224.6,120.4 L222.6,123.5 L224.6,126.6 L222.6,129.7 L224.6,132.8 L222.6,135.9 L224.6,139 L222.6,142.1 L224.6,145.2 L222.6,148.3 L224.6,151.4 L222.7,154.5 L222.7,158.3 L224.6,161.4 L222.6,164.5 L224.6,167.6 L222.6,170.7 L224.6,173.8 L222.6,176.9 L224.6,180 L222.6,183.1 L224.6,186.2 L222.6,189.3 L224.6,192.4 L222.6,195.5 L224.6,198.6 L222.6,201.7 L224.6,204.8 L222.6,207.9 L224.6,211 L222.79,213.8" stroke="#2a2a2a" stroke-width="1.05" fill="none" stroke-linejoin="miter"/>
<path d="M228.1,105.4 L224.6,107.3 L228.1,109.2" stroke="#2a2a2a" stroke-width="0.95" fill="none" />
<path d="M230,52.7 L228,55.8 L230,58.9 L228,62 L230,65.1 L228,68.2 L230,71.3 L228,74.4 L230,77.5 L228,80.6 L230,83.7 L228,86.8 L230,89.9 L228,93 L230,96.1 L228,99.2 L230,102.3 L228.1,105.4 L228.1,109.2 L230,112.3 L228,115.4 L230,118.5 L228,121.6 L230,124.7 L228.77,126.6" stroke="#2a2a2a" stroke-width="1.05" fill="none" stroke-linejoin="miter"/>
</svg>
</body></html>
